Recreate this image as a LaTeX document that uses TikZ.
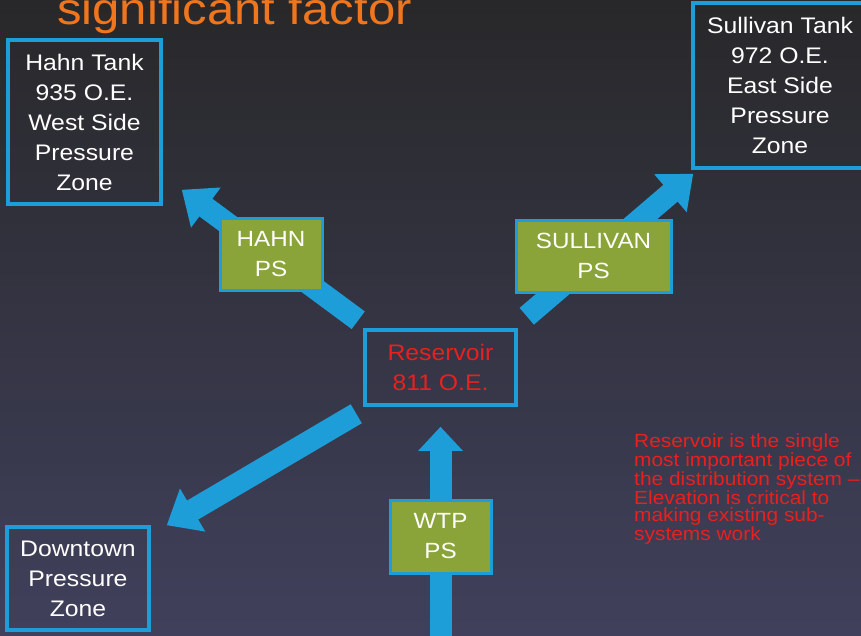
\documentclass[tikz,border=0pt]{standalone}
\usepackage{fontspec}
\setmainfont{Liberation Sans}[FakeStretch=1.1]
\usetikzlibrary{arrows.meta,calc}
\definecolor{bgtop}{RGB}{40,40,42}
\definecolor{bgbot}{RGB}{64,64,92}
\definecolor{cyanc}{RGB}{30,158,216}
\definecolor{greenc}{RGB}{138,164,58}
\definecolor{redc}{RGB}{232,32,30}
\definecolor{orangec}{RGB}{240,118,30}
\pgfdeclarelayer{bg}
\pgfdeclarelayer{arr}
\pgfsetlayers{bg,arr,main}
\begin{document}
\begin{tikzpicture}[x=1pt,y=-1pt,
  tankbox/.style={draw=cyanc, line width=3.5pt, text=white, align=center,
    font=\fontsize{22.5}{30}\selectfont, inner sep=0pt},
  psbox/.style={draw=cyanc, fill=greenc, line width=3pt, text=white, align=center,
    font=\fontsize{22}{30}\selectfont, inner sep=0pt},
  blockarrow/.style={draw=cyanc, line width=22pt,
    -{Triangle[width=48pt,length=30pt]}},
  uparrow/.style={draw=cyanc, line width=22pt,
    -{Triangle[width=43pt,length=24pt]}}]
\useasboundingbox (0,0) rectangle (861,635);
\begin{pgfonlayer}{bg}
  \shade[top color=bgtop, bottom color=bgbot] (0,0) rectangle (861,635);
\end{pgfonlayer}

\node[text=orangec, anchor=base, font=\fontsize{44.6}{50}\selectfont] (title) at (234.5,24) {significant factor};

\node[tankbox, minimum width=153pt, minimum height=164pt] (hahn) at (84.5,122)
  {Hahn Tank\\935 O.E.\\West Side\\Pressure\\Zone};
\node[tankbox, minimum width=174pt, minimum height=165pt] (sul) at (780,85.5)
  {Sullivan Tank\\972 O.E.\\East Side\\Pressure\\Zone};
\node[tankbox, text=redc, minimum width=151pt, minimum height=75pt] (res) at (440.5,367.5)
  {Reservoir\\811 O.E.};
\node[tankbox, minimum width=142pt, minimum height=103pt] (down) at (78,578.5)
  {Downtown\\Pressure\\Zone};

\node[psbox, minimum width=102pt, minimum height=72pt] (hps) at (271,254) {HAHN\\PS};
\node[psbox, minimum width=155pt, minimum height=72pt] (sps) at (593.5,256) {SULLIVAN\\PS};
\node[psbox, minimum width=101pt, minimum height=73pt] (wps) at (440.5,536.5) {WTP\\PS};

\coordinate (wsrc) at (440.5,650);

\begin{pgfonlayer}{arr}
  \draw[blockarrow] ($(res.north west)+(-5,-8)$) -- ($(hahn.south east)+(19,-16)$);
  \draw[blockarrow] ($(res.north east)+(9,-12)$) -- ($(sul.south west)+(2,4)$);
  \draw[blockarrow] ($(res.south west)+(-7,7)$) -- ($(down.north east)+(16,0)$);
  \draw[uparrow] (wsrc) -- ($(res.south)+(0,20)$);
\end{pgfonlayer}

\node[anchor=north west, inner sep=0pt, align=left, text=redc,
  font=\fontsize{19}{17.6}\selectfont] (note) at (634,434)
  {Reservoir is the single\\most important piece of\\the distribution system --\\Elevation is critical to\\making existing sub-\\systems work};
\end{tikzpicture}
\end{document}
